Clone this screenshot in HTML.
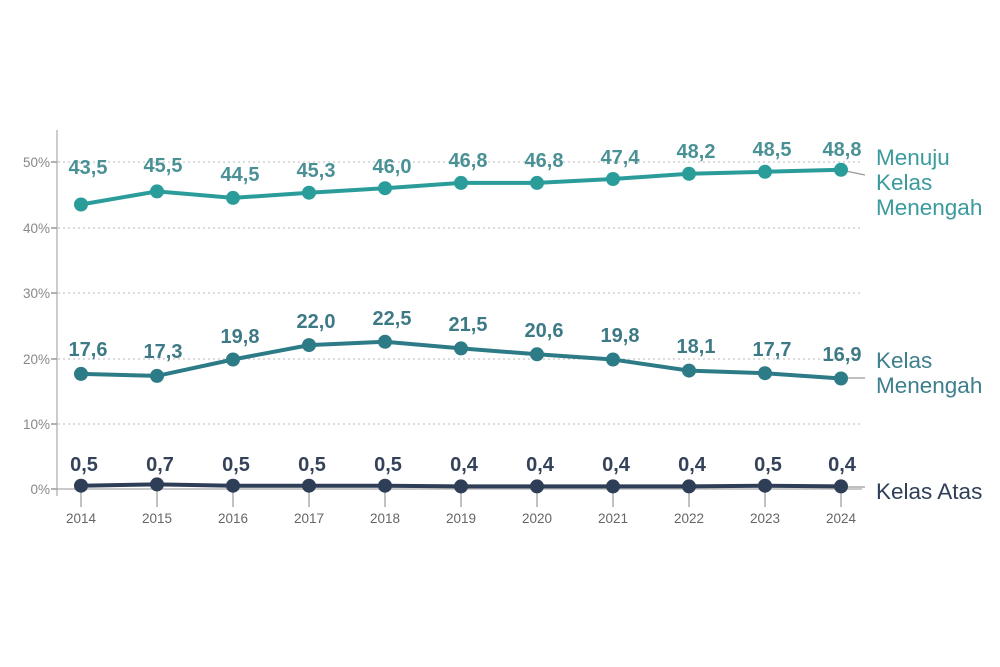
<!DOCTYPE html>
<html><head><meta charset="utf-8"><style>
html,body{margin:0;padding:0;background:#fff;}
svg{display:block;font-family:"Liberation Sans",sans-serif;}
</style></head><body>
<svg width="1000" height="667" viewBox="0 0 1000 667" xmlns="http://www.w3.org/2000/svg">
<g stroke="#c8c8c8" stroke-width="1.2" stroke-dasharray="2,3">
<line x1="58" y1="162" x2="862" y2="162"/>
<line x1="58" y1="228" x2="862" y2="228"/>
<line x1="58" y1="293" x2="862" y2="293"/>
<line x1="58" y1="359" x2="862" y2="359"/>
<line x1="58" y1="424" x2="862" y2="424"/>
</g>
<line x1="57" y1="130" x2="57" y2="496" stroke="#bbb" stroke-width="1.5"/>
<line x1="57" y1="489" x2="862" y2="489" stroke="#aaa" stroke-width="1.2"/>
<g stroke="#999" stroke-width="1.5">
<line x1="51" y1="162" x2="57" y2="162"/><line x1="51" y1="228" x2="57" y2="228"/><line x1="51" y1="293" x2="57" y2="293"/><line x1="51" y1="359" x2="57" y2="359"/><line x1="51" y1="424" x2="57" y2="424"/><line x1="51" y1="489" x2="57" y2="489"/>
</g>
<g fill="#888" font-size="13.5" text-anchor="end">
<text x="50" y="167">50%</text><text x="50" y="233">40%</text><text x="50" y="298">30%</text><text x="50" y="364">20%</text><text x="50" y="429">10%</text><text x="50" y="494">0%</text>
</g>
<g fill="#666" font-size="13.5" text-anchor="middle">
<text x="81" y="523">2014</text><text x="157" y="523">2015</text><text x="233" y="523">2016</text><text x="309" y="523">2017</text><text x="385" y="523">2018</text><text x="461" y="523">2019</text><text x="537" y="523">2020</text><text x="613" y="523">2021</text><text x="689" y="523">2022</text><text x="765" y="523">2023</text><text x="841" y="523">2024</text>
</g>
<g stroke="#999" stroke-width="1.2">
<line x1="81" y1="489" x2="81" y2="507"/><line x1="157" y1="489" x2="157" y2="507"/><line x1="233" y1="489" x2="233" y2="507"/><line x1="309" y1="489" x2="309" y2="507"/><line x1="385" y1="489" x2="385" y2="507"/><line x1="461" y1="489" x2="461" y2="507"/><line x1="537" y1="489" x2="537" y2="507"/><line x1="613" y1="489" x2="613" y2="507"/><line x1="689" y1="489" x2="689" y2="507"/><line x1="765" y1="489" x2="765" y2="507"/><line x1="841" y1="489" x2="841" y2="507"/>
<line x1="841" y1="170" x2="865" y2="175"/><line x1="841" y1="378" x2="865" y2="378"/><line x1="841" y1="487" x2="865" y2="487"/>
</g>
<polyline fill="none" stroke="#2a9d9a" stroke-width="4" points="81,204.5 157,191.4 233,197.9 309,192.7 385,188.2 461,182.9 537,182.9 613,179 689,173.8 765,171.8 841,169.8"/>
<g fill="#2a9d9a"><circle cx="81" cy="204.5" r="7"/><circle cx="157" cy="191.4" r="7"/><circle cx="233" cy="197.9" r="7"/><circle cx="309" cy="192.7" r="7"/><circle cx="385" cy="188.2" r="7"/><circle cx="461" cy="182.9" r="7"/><circle cx="537" cy="182.9" r="7"/><circle cx="613" cy="179" r="7"/><circle cx="689" cy="173.8" r="7"/><circle cx="765" cy="171.8" r="7"/><circle cx="841" cy="169.8" r="7"/></g>
<g fill="#4a9196" font-size="20" font-weight="bold" text-anchor="middle">
<text x="88" y="174">43,5</text><text x="163" y="172">45,5</text><text x="240" y="181">44,5</text><text x="316" y="177">45,3</text><text x="392" y="173">46,0</text><text x="468" y="167">46,8</text><text x="544" y="167">46,8</text><text x="620" y="164">47,4</text><text x="696" y="158">48,2</text><text x="772" y="156">48,5</text><text x="842" y="156">48,8</text>
</g>
<polyline fill="none" stroke="#2c7b86" stroke-width="4" points="81,373.9 157,375.9 233,359.5 309,345.1 385,341.8 461,348.4 537,354.3 613,359.5 689,370.6 765,373.2 841,378.5"/>
<g fill="#2c7b86"><circle cx="81" cy="373.9" r="7"/><circle cx="157" cy="375.9" r="7"/><circle cx="233" cy="359.5" r="7"/><circle cx="309" cy="345.1" r="7"/><circle cx="385" cy="341.8" r="7"/><circle cx="461" cy="348.4" r="7"/><circle cx="537" cy="354.3" r="7"/><circle cx="613" cy="359.5" r="7"/><circle cx="689" cy="370.6" r="7"/><circle cx="765" cy="373.2" r="7"/><circle cx="841" cy="378.5" r="7"/></g>
<g fill="#3d7a86" font-size="20" font-weight="bold" text-anchor="middle">
<text x="88" y="356">17,6</text><text x="163" y="358">17,3</text><text x="240" y="343">19,8</text><text x="316" y="328">22,0</text><text x="392" y="325">22,5</text><text x="468" y="331">21,5</text><text x="544" y="337">20,6</text><text x="620" y="342">19,8</text><text x="696" y="353">18,1</text><text x="772" y="356">17,7</text><text x="842" y="361">16,9</text>
</g>
<polyline fill="none" stroke="#2d3e56" stroke-width="4" points="81,485.7 157,484.4 233,485.7 309,485.7 385,485.7 461,486.4 537,486.4 613,486.4 689,486.4 765,485.7 841,486.4"/>
<g fill="#2d3e56"><circle cx="81" cy="485.7" r="7"/><circle cx="157" cy="484.4" r="7"/><circle cx="233" cy="485.7" r="7"/><circle cx="309" cy="485.7" r="7"/><circle cx="385" cy="485.7" r="7"/><circle cx="461" cy="486.4" r="7"/><circle cx="537" cy="486.4" r="7"/><circle cx="613" cy="486.4" r="7"/><circle cx="689" cy="486.4" r="7"/><circle cx="765" cy="485.7" r="7"/><circle cx="841" cy="486.4" r="7"/></g>
<g fill="#34425a" font-size="20" font-weight="bold" text-anchor="middle">
<text x="84" y="471">0,5</text><text x="160" y="471">0,7</text><text x="236" y="471">0,5</text><text x="312" y="471">0,5</text><text x="388" y="471">0,5</text><text x="464" y="471">0,4</text><text x="540" y="471">0,4</text><text x="616" y="471">0,4</text><text x="692" y="471">0,4</text><text x="768" y="471">0,5</text><text x="842" y="471">0,4</text>
</g>
<g font-size="22.5">
<text x="876" y="165" fill="#3a9a9c">Menuju</text>
<text x="876" y="190" fill="#3a9a9c">Kelas</text>
<text x="876" y="215" fill="#3a9a9c">Menengah</text>
<text x="876" y="368" fill="#3d7f8c">Kelas</text>
<text x="876" y="393" fill="#3d7f8c">Menengah</text>
<text x="876" y="499" fill="#2f3f58">Kelas Atas</text>
</g>
</svg>
</body></html>
